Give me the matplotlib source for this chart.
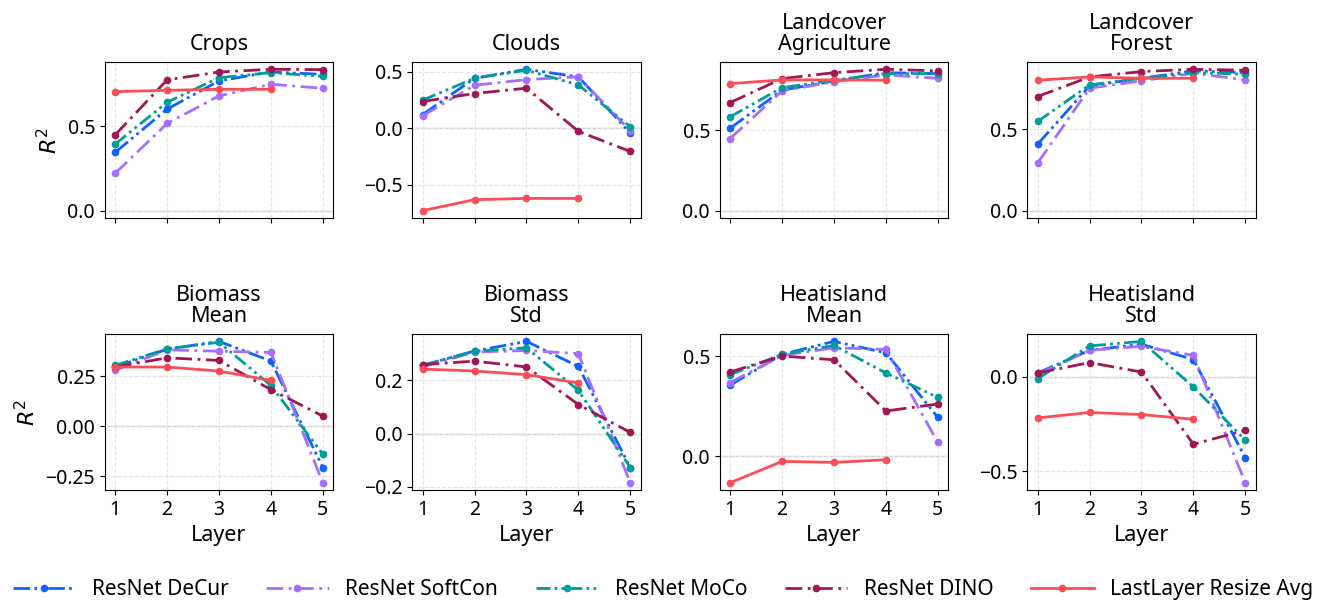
import matplotlib
matplotlib.use('Agg')
import matplotlib.pyplot as plt
import numpy as np

plt.rcParams['font.family'] = ['Noto Sans', 'DejaVu Sans']
plt.rcParams['mathtext.fontset'] = 'dejavusans'

# Data
layers = [1, 2, 3, 4, 5]
ll_layers = [1, 2, 3, 4]
titles = ["Crops", "Clouds", "Landcover\nAgriculture", "Landcover\nForest",
          "Biomass\nMean", "Biomass\nStd", "Heatisland\nMean", "Heatisland\nStd"]
models = ["ResNet DeCur", "ResNet SoftCon", "ResNet MoCo", "ResNet DINO", "LastLayer Resize Avg"]
yticks = [[0.0, 0.5], [-0.5, 0.0, 0.5], [0.0, 0.5], [0.0, 0.5],
          [-0.25, 0.0, 0.25], [-0.2, 0.0, 0.2], [0.0, 0.5], [-0.5, 0.0]]

decur = [
    [0.346, 0.603, 0.771, 0.824, 0.810],
    [0.120, 0.441, 0.520, 0.453, -0.044],
    [0.512, 0.748, 0.806, 0.857, 0.851],
    [0.408, 0.765, 0.812, 0.857, 0.847],
    [0.296, 0.385, 0.424, 0.326, -0.206],
    [0.256, 0.310, 0.346, 0.252, -0.128],
    [0.356, 0.510, 0.575, 0.518, 0.195],
    [0.021, 0.141, 0.173, 0.092, -0.428],
]
softcon = [
    [0.221, 0.518, 0.682, 0.751, 0.727],
    [0.109, 0.379, 0.429, 0.453, -0.024],
    [0.448, 0.744, 0.800, 0.843, 0.822],
    [0.292, 0.751, 0.796, 0.843, 0.802],
    [0.279, 0.382, 0.375, 0.369, -0.282],
    [0.250, 0.306, 0.312, 0.300, -0.185],
    [0.369, 0.505, 0.543, 0.535, 0.070],
    [0.014, 0.141, 0.162, 0.114, -0.560],
]
moco = [
    [0.395, 0.644, 0.790, 0.820, 0.798],
    [0.247, 0.441, 0.512, 0.382, 0.012],
    [0.583, 0.764, 0.810, 0.851, 0.851],
    [0.547, 0.771, 0.812, 0.847, 0.837],
    [0.304, 0.387, 0.420, 0.204, -0.140],
    [0.256, 0.309, 0.322, 0.162, -0.128],
    [0.409, 0.510, 0.555, 0.417, 0.295],
    [-0.009, 0.164, 0.188, -0.053, -0.335],
]
dino = [
    [0.450, 0.777, 0.824, 0.840, 0.838],
    [0.235, 0.306, 0.353, -0.029, -0.206],
    [0.671, 0.820, 0.857, 0.878, 0.868],
    [0.700, 0.820, 0.853, 0.867, 0.861],
    [0.296, 0.342, 0.329, 0.183, 0.051],
    [0.259, 0.272, 0.250, 0.109, 0.004],
    [0.422, 0.502, 0.483, 0.227, 0.262],
    [0.021, 0.076, 0.026, -0.356, -0.282],
]
lastlayer = [
    [0.707, 0.715, 0.721, 0.721],
    [-0.729, -0.632, -0.621, -0.621],
    [0.789, 0.812, 0.812, 0.810],
    [0.800, 0.820, 0.812, 0.812],
    [0.296, 0.296, 0.276, 0.229],
    [0.242, 0.235, 0.221, 0.190],
    [-0.132, -0.025, -0.030, -0.017],
    [-0.217, -0.188, -0.199, -0.224],
]

colors = ['#0f62fe', '#a56eff', '#009d9a', '#9f1853', '#fa4d56']
styles = [(0, (6, 1.5, 1, 1.5, 1, 1.5)), (0, (6, 2, 1, 2)), (0, (5, 1.5, 1, 1.5, 1, 1.5)),
          (0, (6, 2, 1, 2)), '-']

fig, axes = plt.subplots(2, 4, figsize=(13.26, 6.04), dpi=100, sharex=True)
fig.subplots_adjust(left=0.079, right=0.947, top=0.897, bottom=0.189, wspace=0.346, hspace=0.75)

handles = []
for i, ax in enumerate(axes.flat):
    ax.axhline(0, color='#cccccc', linewidth=1, zorder=0)
    series = [decur[i], softcon[i], moco[i], dino[i]]
    for j, ys in enumerate(series):
        h, = ax.plot(layers, ys, linestyle=styles[j], color=colors[j], marker='o',
                     markersize=4.5, linewidth=2, label=models[j])
        if i == 0:
            handles.append(h)
    h, = ax.plot(ll_layers, lastlayer[i], linestyle='-', color=colors[4], marker='o',
                 markersize=4.5, linewidth=2, label=models[4])
    if i == 0:
        handles.append(h)
    ax.set_title(titles[i], fontsize=15.5, linespacing=1.0, pad=9)
    ax.grid(True, linestyle='--', color='#e6e6e6', linewidth=0.8)
    ax.set_axisbelow(True)
    ax.tick_params(labelsize=14)
    ax.set_xticks(layers)
    ax.set_yticks(yticks[i])
    if i >= 4:
        ax.set_xlabel('Layer', fontsize=15.5)
    if i % 4 == 0:
        ax.set_ylabel('$R^2$', fontsize=16)

fig.legend(handles, models, loc='lower center', ncol=5, frameon=False, fontsize=15,
           bbox_to_anchor=(0.5, -0.025), handlelength=3.0, columnspacing=1.8)

fig.savefig('out.png', dpi=100)
